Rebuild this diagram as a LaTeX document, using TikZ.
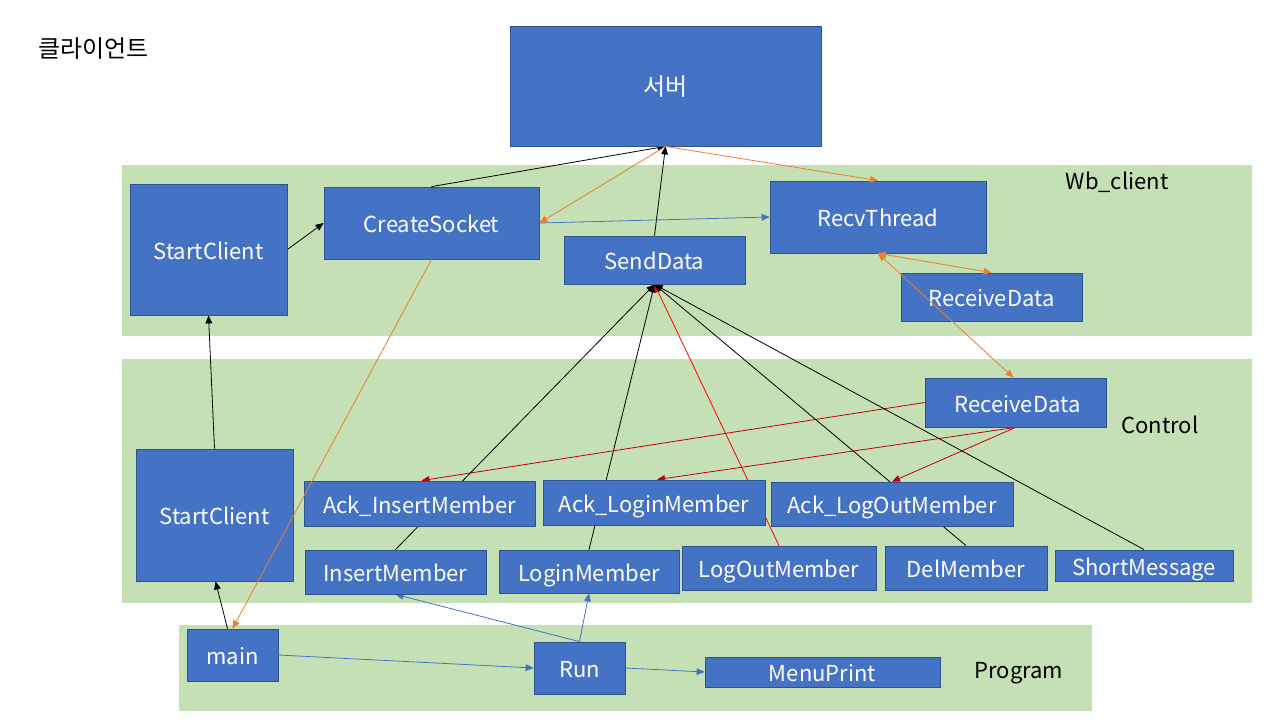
\documentclass[tikz,border=0pt]{standalone}
\usepackage{fontspec}
\setmainfont{Noto Sans CJK KR}
\usetikzlibrary{arrows.meta,fit,calc}
\pgfdeclarelayer{bg}
\pgfdeclarelayer{edges}
\pgfsetlayers{bg,edges,main}
\definecolor{band}{HTML}{C5E0B4}
\definecolor{boxfill}{HTML}{4472C4}
\definecolor{boxline}{HTML}{2F528F}
\definecolor{orng}{HTML}{ED7D31}
\definecolor{blu}{HTML}{4472C4}
\definecolor{dred}{HTML}{C00000}
\definecolor{bred}{HTML}{FF0000}
\tikzset{
  box/.style={draw=boxline,fill=boxfill,line width=0.6pt,inner sep=0pt},
  txt/.style={text=white,font=\fontsize{16.5}{19}\selectfont,inner sep=0pt,text height=11.8pt,text depth=0pt,yshift=-1.5pt},
  ktxt/.style={text=white,font=\fontsize{18}{22}\selectfont,inner sep=0pt,text height=13pt,text depth=0pt,yshift=-1pt},
  lbl/.style={font=\fontsize{16.5}{19}\selectfont,text=black,inner sep=0pt,text height=11.8pt,text depth=0pt,yshift=-1.5pt},
  conn/.style={line width=0.6pt,-{Triangle[length=6pt,width=5pt]}},
  both/.style={line width=0.6pt,{Triangle[length=6pt,width=5pt]}-{Triangle[length=6pt,width=5pt]}},
}
\begin{document}
\begin{tikzpicture}[x=0.75pt,y=-0.75pt]
\useasboundingbox (0,0) rectangle (1280,720);
\begin{pgfonlayer}{bg}
\fill[white] (0,0) rectangle (1280,720);
\fill[band] (122,165) rectangle (1252,336);
\fill[band] (122,359) rectangle (1252,603);
\fill[band] (179,625) rectangle (1092,711);
\end{pgfonlayer}
% labels
\node[lbl,font=\fontsize{18}{22}\selectfont,text height=13pt,anchor=west] (tclient) at (38,47) {클라이언트};
\node[lbl] (twb) at (1117,180) {Wb\_client};
\node[lbl] (tctrl) at (1160,424) {Control};
\node[lbl] (tprog) at (1019,669) {Program};
% nodes
\node[box,fit={(510,26)(821,146)},label={[ktxt]center:서버}] (server) {};
\node[box,fit={(130,184)(287,315)},label={[txt]center:StartClient}] (sc1) {};
\node[box,fit={(324,187)(539,259)},label={[txt]center:CreateSocket}] (cs) {};
\node[box,fit={(564,236)(745,284)},label={[txt]center:SendData}] (sd) {};
\node[box,fit={(770,181)(986,253)},label={[txt]center:RecvThread}] (rt) {};
\node[box,fit={(901,273)(1082,321)},label={[txt]center:ReceiveData}] (rd1) {};
\node[box,fit={(925,378)(1106,427)},label={[txt,xshift=1.5pt]center:ReceiveData}] (rd2) {};
\node[box,fit={(136,449)(293,581)},label={[txt]center:StartClient}] (sc2) {};
\node[box,fit={(304,481)(535,526)},label={[txt]center:Ack\_InsertMember}] (aim) {};
\node[box,fit={(543,480)(765,525)},label={[txt]center:Ack\_LoginMember}] (alm) {};
\node[box,fit={(771,482)(1013,526)},label={[txt]center:Ack\_LogOutMember}] (alo) {};
\node[box,fit={(305,550)(486,594)},label={[txt]center:InsertMember}] (im) {};
\node[box,fit={(499,550)(679,593)},label={[txt]center:LoginMember}] (lm) {};
\node[box,fit={(682,546)(876,590)},label={[txt]center:LogOutMember}] (lo) {};
\node[box,fit={(885,546)(1047,590)},label={[txt]center:DelMember}] (dm) {};
\node[box,fit={(1055,550)(1233,581)},label={[txt]center:ShortMessage}] (sm) {};
\node[box,fit={(187,629)(278,681)},label={[txt]center:main}] (mn) {};
\node[box,fit={(534,642)(625,694)},label={[txt]center:Run}] (run) {};
\node[box,fit={(705,657)(940,687)},label={[txt]center:MenuPrint}] (mp) {};
% edges behind boxes
\begin{pgfonlayer}{edges}
\draw[conn,black] (sc2.north) -- (sc1.south);
\draw[conn,black] ($(mn.north)+(-5,0)$) -- ($(sc2.south)+(1,0)$);
\draw[conn,black] (sc1.east) -- (cs.west);
\draw[conn,black] (cs.north) -- (server.south);
\draw[conn,black] (sd.north) -- (server.south);
\draw[conn,blu] (cs.east) -- (rt.west);
\draw[conn,dred] (rd2.west) -- ($(aim.north)+(2,0)$);
\draw[conn,dred] (rd2.south) -- ($(alm.north)+(3,0)$);
\draw[conn,dred] (rd2.south) -- (alo.north);
\draw[conn,black] (im.north) -- (sd.south);
\draw[conn,black] (lm.north) -- (sd.south);
\draw[conn,bred] (lo.north) -- (sd.south);
\draw[conn,black] (dm.north) -- (sd.south);
\draw[conn,black] (sm.north) -- (sd.south);
\draw[conn,blu] (mn.east) -- (run.west);
\draw[conn,blu] (run.north) -- (im.south);
\draw[conn,blu] (run.north) -- (lm.south);
\draw[conn,blu] (run.east) -- (mp.west);
\end{pgfonlayer}
% orange edges drawn over boxes
\draw[conn,orng] (cs.south) -- (mn.north);
\draw[conn,orng] (server.south) -- (cs.east);
\draw[conn,orng] (server.south) -- (rt.north);
\draw[both,orng] (rt.south) -- (rd1.north);
\draw[both,orng] (rt.south) -- ($(rd2.north)+(-2,0)$);
\end{tikzpicture}
\end{document}
